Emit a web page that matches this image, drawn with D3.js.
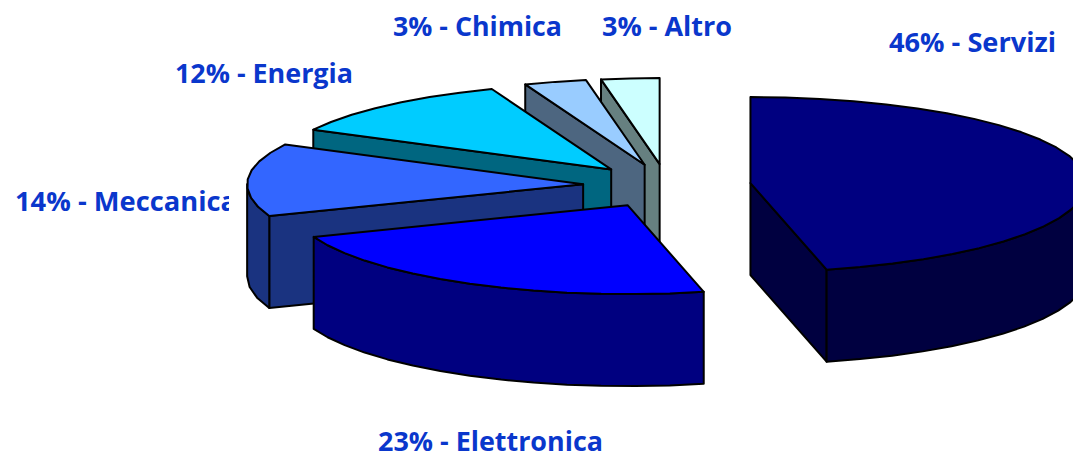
<!DOCTYPE html>
<html>
<head>
<meta charset="utf-8">
<script src="https://cdn.jsdelivr.net/npm/d3@7"></script>
<style>
  html, body { margin: 0; padding: 0; background: #fff; overflow: hidden; }
  text { font-family: "Open Sans", sans-serif; font-weight: 700; fill: #0a37cc; }
</style>
</head>
<body>
<div id="chart"></div>
<script>
// Data (labels are the rounded shares)
const categories = ["Servizi", "Elettronica", "Meccanica", "Energia", "Chimica", "Altro"];
const shares = [46.5, 22.9, 13.5, 11.6, 3.0, 2.8];
const percentLabels = ["46%", "23%", "14%", "12%", "3%", "3%"];
const topColors = ["#000080", "#0000ff", "#3366ff", "#00ccff", "#99ccff", "#ccffff"];
const sideColors = ["#000040", "#000080", "#1a3380", "#006680", "#4d6680", "#668080"];

// Label placement: [x, baseline, width]
const labelBoxes = [
    [889, 52, 167],
    [378, 451, 225],
    [15, 211, 222],
    [175, 83, 178],
    [393, 36, 169],
    [602, 36, 130]
];

const width = 1073, height = 453;
const center = { x: 667, y: 185.5 };
const radiusX = 336, radiusBack = 86, radiusFront = 89, depth = 92;
const explode = 0.25;
const rimStep = 6 * Math.PI / 180; // the original rim is a slightly coarse polygon

const svg = d3.select("#chart").append("svg")
    .attr("width", width)
    .attr("height", height)
    .style("display", "block");

// Flatten the pie onto an ellipse: unit circle -> screen (front half a bit nearer)
const xScale = d3.scaleLinear().domain([-1, 1]).range([center.x - radiusX, center.x + radiusX]);
const yScale = d3.scaleLinear().domain([-1, 0, 1]).range([center.y - radiusBack, center.y, center.y + radiusFront]);

const pie = d3.pie().sort(null);
const slices = pie(shares);

// Point at angle a (clockwise from up), at radius r, for a slice shifted by (ox, oy)
const project = (a, r, off) => [
    xScale(Math.sin(a) * r + off[0]),
    yScale(-Math.cos(a) * r + off[1])
];

const lineGen = d3.line();
const drop = p => [p[0], p[1] + depth];

// Sample the rim between two angles
const rim = (a0, a1, off) => {
    const n = Math.max(1, Math.round((a1 - a0) / rimStep));
    return d3.range(0, n + 1).map(i => project(a0 + (a1 - a0) * i / n, 1, off));
};

const drawShape = (g, pts, fill) => {
    g.append("path")
        .attr("d", lineGen(pts) + "Z")
        .attr("fill", fill)
        .attr("stroke", "#000")
        .attr("stroke-width", 2)
        .attr("stroke-linejoin", "round");
};

// Painter's order, back to front
const order = [5, 4, 3, 2, 1, 0];
order.forEach(i => {
    const s = slices[i];
    const mid = (s.startAngle + s.endAngle) / 2;
    const off = [Math.sin(mid) * explode, -Math.cos(mid) * explode];
    const apex = project(0, 0, off);
    const g = svg.append("g").attr("class", "slice-" + categories[i]);

    // Radial walls, only the ones facing the viewer
    if (Math.sin(s.startAngle) < -1e-6) {
        const p = project(s.startAngle, 1, off);
        drawShape(g, [apex, p, drop(p), drop(apex)], sideColors[i]);
    }
    if (Math.sin(s.endAngle) > 1e-6) {
        const p = project(s.endAngle, 1, off);
        drawShape(g, [apex, p, drop(p), drop(apex)], sideColors[i]);
    }

    // Outer wall on the front half of the ellipse
    const a0 = Math.max(s.startAngle, Math.PI / 2);
    const a1 = Math.min(s.endAngle, Math.PI * 1.5);
    if (a1 > a0) {
        const arc = rim(a0, a1, off);
        drawShape(g, arc.concat(arc.slice().reverse().map(drop)), sideColors[i]);
    }

    // Top face
    drawShape(g, [apex].concat(rim(s.startAngle, s.endAngle, off)), topColors[i]);
});

// The Meccanica label is cut off by its box in the original
svg.append("clipPath").attr("id", "meccanica-clip")
    .append("rect").attr("x", 0).attr("y", 170).attr("width", 229).attr("height", 60);

svg.append("g").selectAll("text")
    .data(categories)
    .enter()
    .append("text")
    .attr("x", (d, i) => labelBoxes[i][0])
    .attr("y", (d, i) => labelBoxes[i][1])
    .attr("textLength", (d, i) => labelBoxes[i][2])
    .attr("lengthAdjust", "spacingAndGlyphs")
    .attr("font-size", 26)
    .attr("clip-path", d => d === "Meccanica" ? "url(#meccanica-clip)" : null)
    .text((d, i) => `${percentLabels[i]} - ${d}`);
</script>
</body>
</html>
